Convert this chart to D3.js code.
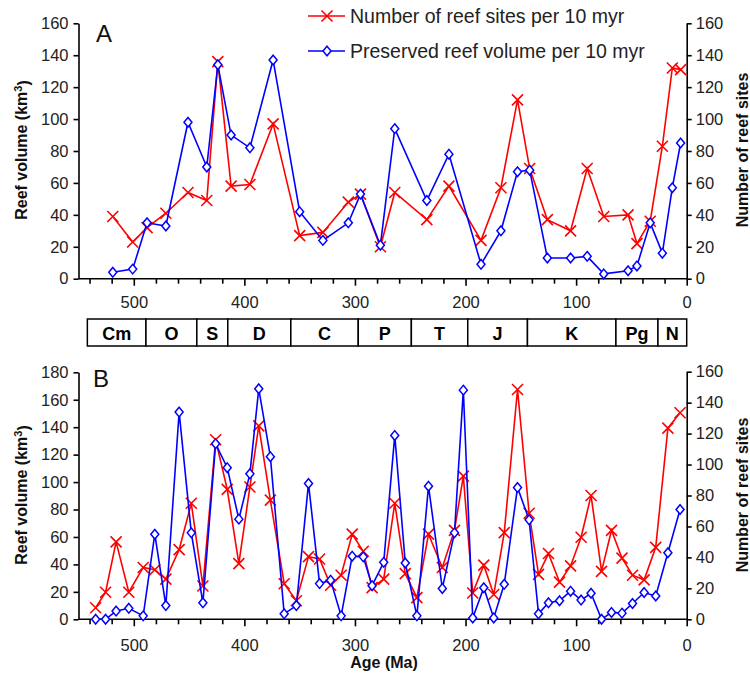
<!DOCTYPE html>
<html>
<head>
<meta charset="utf-8">
<script src="https://cdn.jsdelivr.net/npm/d3@7"></script>
<style>
  body { margin: 0; background: #fff; }
  svg { font-family: "Liberation Sans", Arial, sans-serif; }
</style>
</head>
<body>
<div id="chart"></div>
<script>
// panel A: binned per 10 myr
var agesA = [519, 501, 488, 471, 451, 434, 424, 412, 395, 374, 350, 329, 306, 295, 277, 264,
             235, 215, 186, 168, 153, 142, 126, 105, 90, 75, 53, 45, 33, 22, 13, 5.5];
var sitesA = [39, 23, 32, 41, 54, 49, 136, 58, 59, 97, 27, 29, 48, 53, 20, 54,
              37, 58, 24, 57, 112, 69, 37, 30, 69, 39, 40, 22, 36, 83, 132, 131];
var volumeA = [4, 6, 35, 33, 98, 70, 134, 90, 82, 137, 42, 24, 35, 53, 21, 94,
               49, 78, 9, 30, 67, 68, 13, 13, 14, 3, 5, 8, 35, 16, 57, 85];

// panel B: stage level
var agesB = [534.5, 525.5, 516, 504.5, 491.5, 481, 471, 459, 448, 437.5, 426, 415.5, 405, 395, 387,
             376.5, 364, 353, 342, 332, 322, 312.5, 302.5, 292.5, 284.5, 274, 264, 254.5, 244, 233.5,
             221, 210, 202, 193.5, 183.5, 174.5, 165, 153, 142.5, 134, 125, 115, 105, 95.5, 86.5,
             77, 68, 58.5, 49, 38.5, 28, 17, 6];
var sitesB = [7.5, 17.5, 50, 17.5, 33.5, 32, 26, 45, 75, 21.5, 116, 84, 36, 85.5, 125,
              77, 23, 12, 40.5, 39, 22, 28.5, 55, 44, 20.5, 26, 75, 29.5, 14, 55,
              33.5, 57.5, 92.5, 17, 35, 16, 56, 148.5, 68.5, 29, 42.5, 24, 34.5, 53, 80,
              31, 57.5, 39.5, 28.5, 25.5, 46.5, 123.5, 133.5];
var volumeB = [0, 0, 6, 8, 2.5, 62, 10, 151, 63, 12, 128, 110.5, 73, 106, 168,
               118.5, 4, 10, 99, 26, 28.5, 2.5, 46, 45.5, 24.5, 41.5, 134, 41, 2.5, 97,
               22.5, 63, 167, 1, 23, 1, 25.5, 96, 72.5, 4, 12, 13.5, 20.5, 14, 19,
               0, 5, 4.5, 11.5, 19.5, 17, 48.5, 80];

// geological periods (boundaries in Ma)
var periodNames = ["Cm", "O", "S", "D", "C", "P", "T", "J", "K", "Pg", "N"];
var periodBounds = [542, 489, 443, 415, 358, 297, 249, 198, 144, 64, 26, 0];

var legendLabels = ["Number of reef sites per 10 myr", "Preserved reef volume per 10 myr"];

var width = 750, height = 674;
var svg = d3.select("#chart").append("svg")
  .attr("width", width).attr("height", height);

var x = d3.scaleLinear().domain([550, 0]).range([78.5, 686.7]);
var xTicks = d3.range(0, 541, 20);

function drawPanel(opt) {
  var yL = d3.scaleLinear().domain([0, opt.maxL]).range([opt.bottom, opt.top]);
  var yR = d3.scaleLinear().domain([0, opt.maxR]).range([opt.bottom, opt.topR]);
  var g = svg.append("g");

  // x axis
  var xa = g.append("g")
    .attr("transform", "translate(0," + opt.bottom + ")")
    .call(d3.axisBottom(x).tickValues(xTicks).tickSize(5).tickPadding(opt.xPad)
      .tickFormat(function(d) { return d % 100 === 0 ? d : ""; }));
  xa.selectAll(".tick line").attr("y2", function(d) { return d % 100 === 0 ? 7 : 5; });
  xa.select(".domain").attr("d", "M" + x.range()[0] + ",0H" + x.range()[1]);

  // left axis
  var la = g.append("g")
    .attr("transform", "translate(" + x.range()[0] + ",0)")
    .call(d3.axisLeft(yL).tickValues(d3.range(0, opt.maxL + 1, 20)).tickSize(5).tickPadding(5).tickSizeOuter(0));
  // right axis
  var ra = g.append("g")
    .attr("transform", "translate(" + x.range()[1] + ",0)")
    .call(d3.axisRight(yR).tickValues(d3.range(0, opt.maxR + 1, 20)).tickSize(5).tickPadding(4).tickSizeOuter(0));

  [xa, la, ra].forEach(function(a) {
    a.selectAll("text").attr("font-size", "16.5px").attr("fill", "#222")
      .attr("font-family", "'Liberation Sans', Arial, sans-serif");
    a.selectAll("line, path").attr("stroke", "#000").attr("stroke-width", 1.6);
  });

  // axis titles
  var lt = g.append("text")
    .attr("transform", "translate(27," + opt.midY + ") rotate(-90)")
    .attr("text-anchor", "middle").attr("font-weight", "bold").attr("font-size", "16px")
    .attr("fill", "#111");
  lt.append("tspan").text("Reef volume (km");
  lt.append("tspan").attr("dy", "-0.45em").attr("font-size", "11px").text("3");
  lt.append("tspan").attr("dy", "0.45em").text(")");

  g.append("text")
    .attr("transform", "translate(747.5," + opt.midY + ") rotate(-90)")
    .attr("text-anchor", "middle").attr("font-weight", "bold").attr("font-size", "16px")
    .attr("fill", "#111")
    .text("Number of reef sites");

  g.append("text").attr("x", opt.letterX).attr("y", opt.letterY)
    .attr("font-size", "24px").attr("fill", "#111").text(opt.letter);

  // series
  var redLine = d3.line().x(function(d) { return x(d[0]); }).y(function(d) { return yR(d[1]); });
  var blueLine = d3.line().x(function(d) { return x(d[0]); }).y(function(d) { return yL(d[1]); });
  var redPts = d3.zip(opt.ages, opt.sites);
  var bluePts = d3.zip(opt.ages, opt.volume);

  g.append("path").datum(redPts).attr("d", redLine)
    .attr("fill", "none").attr("stroke", "#ff0000").attr("stroke-width", 1.6);
  g.selectAll(".xm").data(redPts).enter().append("path")
    .attr("class", "xm")
    .attr("transform", function(d) { return "translate(" + x(d[0]) + "," + yR(d[1]) + ")"; })
    .attr("d", "M-5.5,-5.5L5.5,5.5M-5.5,5.5L5.5,-5.5")
    .attr("stroke", "#ff0000").attr("stroke-width", 1.6).attr("fill", "none");

  g.append("path").datum(bluePts).attr("d", blueLine)
    .attr("fill", "none").attr("stroke", "#0000ff").attr("stroke-width", 1.6);
  g.selectAll(".dm").data(bluePts).enter().append("path")
    .attr("class", "dm")
    .attr("transform", function(d) { return "translate(" + x(d[0]) + "," + yL(d[1]) + ")"; })
    .attr("d", "M0,-4.8L4,0L0,4.8L-4,0Z")
    .attr("stroke", "#0000ff").attr("stroke-width", 1.5).attr("fill", "#fff");
}

drawPanel({
  ages: agesA, sites: sitesA, volume: volumeA,
  maxL: 160, maxR: 160, top: 23.3, topR: 23.3, bottom: 278.7,
  xPad: 13, midY: 150, letter: "A", letterX: 96, letterY: 42
});

drawPanel({
  ages: agesB, sites: sitesB, volume: volumeB,
  maxL: 180, maxR: 160, top: 372.3, topR: 371.7, bottom: 619.3,
  xPad: 15, midY: 495, letter: "B", letterX: 93, letterY: 387
});

// x axis title
svg.append("text").attr("x", 384).attr("y", 668)
  .attr("text-anchor", "middle").attr("font-weight", "bold").attr("font-size", "16px")
  .attr("fill", "#111").text("Age (Ma)");

// period bar
var periods = periodNames.map(function(n, i) {
  return { name: n, start: periodBounds[i], end: periodBounds[i + 1] };
});
var pb = svg.append("g");
pb.selectAll("rect").data(periods).enter().append("rect")
  .attr("x", function(d) { return x(d.start); })
  .attr("y", 319)
  .attr("width", function(d) { return x(d.end) - x(d.start); })
  .attr("height", 27)
  .attr("fill", "#fff").attr("stroke", "#000").attr("stroke-width", 1.5);
pb.selectAll("text").data(periods).enter().append("text")
  .attr("x", function(d) { return (x(d.start) + x(d.end)) / 2; })
  .attr("y", 340)
  .attr("text-anchor", "middle").attr("font-weight", "bold").attr("font-size", "18px")
  .attr("fill", "#000")
  .text(function(d) { return d.name; });

// legend
var leg = svg.append("g");
var legColors = ["#ff0000", "#0000ff"];
legendLabels.forEach(function(label, i) {
  var ly = 16 + i * 35;
  leg.append("line").attr("x1", 308).attr("x2", 345).attr("y1", ly).attr("y2", ly)
    .attr("stroke", legColors[i]).attr("stroke-width", 1.6);
  if (i === 0) {
    leg.append("path").attr("transform", "translate(327," + ly + ")")
      .attr("d", "M-5.5,-5.5L5.5,5.5M-5.5,5.5L5.5,-5.5")
      .attr("stroke", legColors[i]).attr("stroke-width", 1.6);
  } else {
    leg.append("path").attr("transform", "translate(327," + ly + ")")
      .attr("d", "M0,-4.8L4,0L0,4.8L-4,0Z")
      .attr("stroke", legColors[i]).attr("stroke-width", 1.5).attr("fill", "#fff");
  }
  leg.append("text").attr("x", 350).attr("y", ly + 7)
    .attr("font-size", "19.5px").attr("fill", "#222").text(label);
});
</script>
</body>
</html>
